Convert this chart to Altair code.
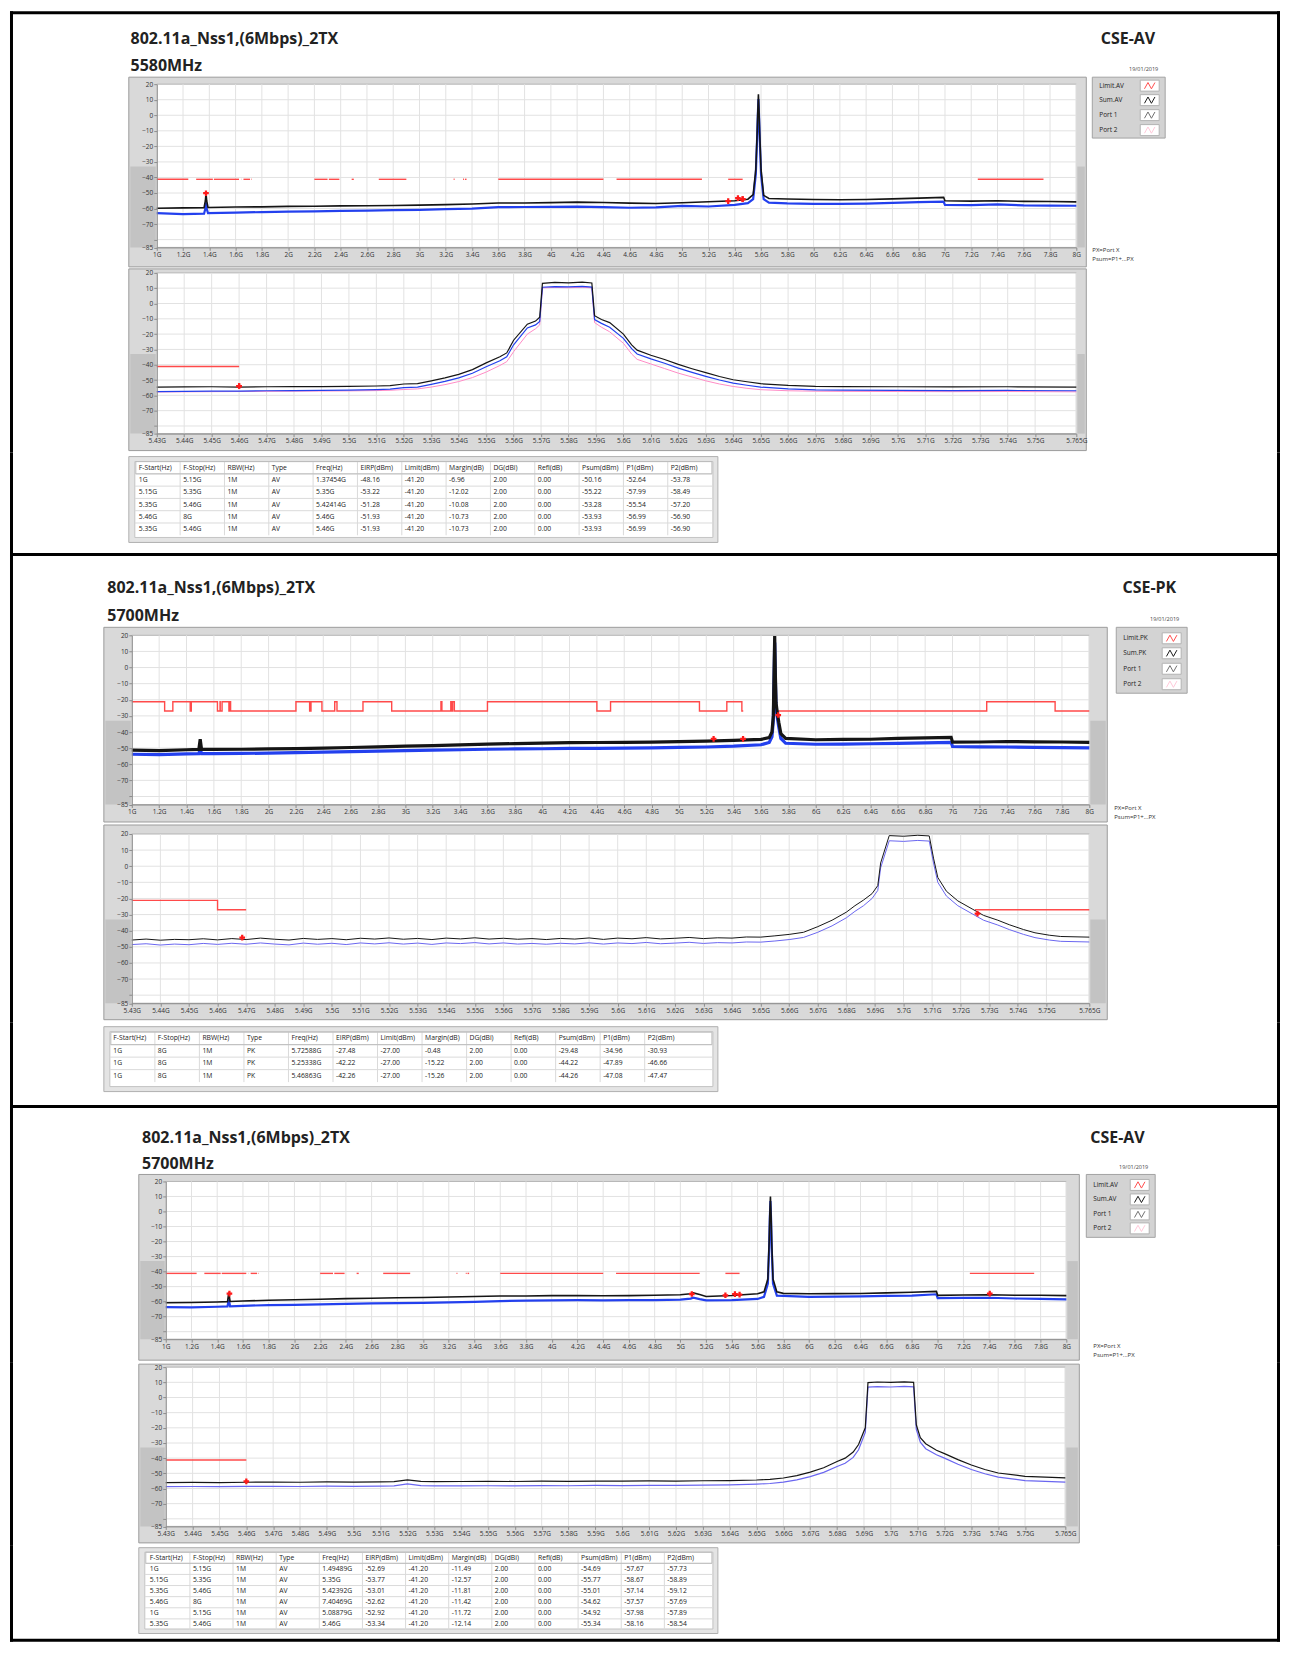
import altair as alt
import pandas as pd

FONT = "Open Sans"

# ------------------------------------------------------------------ texts
TITLE = "802.11a_Nss1,(6Mbps)_2TX"
CHANNELS = ["5580MHz", "5700MHz", "5700MHz"]
MODES = ["CSE-AV", "CSE-PK", "CSE-AV"]
DATE = "19/01/2019"
LEGEND_LABELS = [
    ["Limit.AV", "Sum.AV", "Port 1", "Port 2"],
    ["Limit.PK", "Sum.PK", "Port 1", "Port 2"],
    ["Limit.AV", "Sum.AV", "Port 1", "Port 2"],
]
LEGEND_ICON_COLORS = ["#ff4d4d", "#1a1a1a", "#707070", "#ffc9d9"]
NOTES = ["PX=Port X", "Psum=P1+...PX"]

# ------------------------------------------------------------------ tables
COLS = ["F-Start(Hz)", "F-Stop(Hz)", "RBW(Hz)", "Type", "Freq(Hz)", "EIRP(dBm)", "Limit(dBm)",
        "Margin(dB)", "DG(dBi)", "Refl(dB)", "Psum(dBm)", "P1(dBm)", "P2(dBm)"]
TABLE_1 = [
    ["1G", "5.15G", "1M", "AV", "1.37454G", "-48.16", "-41.20", "-6.96", "2.00", "0.00", "-50.16", "-52.64", "-53.78"],
    ["5.15G", "5.35G", "1M", "AV", "5.35G", "-53.22", "-41.20", "-12.02", "2.00", "0.00", "-55.22", "-57.99", "-58.49"],
    ["5.35G", "5.46G", "1M", "AV", "5.42414G", "-51.28", "-41.20", "-10.08", "2.00", "0.00", "-53.28", "-55.54", "-57.20"],
    ["5.46G", "8G", "1M", "AV", "5.46G", "-51.93", "-41.20", "-10.73", "2.00", "0.00", "-53.93", "-56.99", "-56.90"],
    ["5.35G", "5.46G", "1M", "AV", "5.46G", "-51.93", "-41.20", "-10.73", "2.00", "0.00", "-53.93", "-56.99", "-56.90"],
]
TABLE_2 = [
    ["1G", "8G", "1M", "PK", "5.72588G", "-27.48", "-27.00", "-0.48", "2.00", "0.00", "-29.48", "-34.96", "-30.93"],
    ["1G", "8G", "1M", "PK", "5.25338G", "-42.22", "-27.00", "-15.22", "2.00", "0.00", "-44.22", "-47.89", "-46.66"],
    ["1G", "8G", "1M", "PK", "5.46863G", "-42.26", "-27.00", "-15.26", "2.00", "0.00", "-44.26", "-47.08", "-47.47"],
]
TABLE_3 = [
    ["1G", "5.15G", "1M", "AV", "1.49489G", "-52.69", "-41.20", "-11.49", "2.00", "0.00", "-54.69", "-57.67", "-57.73"],
    ["5.15G", "5.35G", "1M", "AV", "5.35G", "-53.77", "-41.20", "-12.57", "2.00", "0.00", "-55.77", "-58.67", "-58.89"],
    ["5.35G", "5.46G", "1M", "AV", "5.42392G", "-53.01", "-41.20", "-11.81", "2.00", "0.00", "-55.01", "-57.14", "-59.12"],
    ["5.46G", "8G", "1M", "AV", "7.40469G", "-52.62", "-41.20", "-11.42", "2.00", "0.00", "-54.62", "-57.57", "-57.69"],
    ["1G", "5.15G", "1M", "AV", "5.08879G", "-52.92", "-41.20", "-11.72", "2.00", "0.00", "-54.92", "-57.98", "-57.89"],
    ["5.35G", "5.46G", "1M", "AV", "5.46G", "-53.34", "-41.20", "-12.14", "2.00", "0.00", "-55.34", "-58.16", "-58.54"],
]

# ------------------------------------------------------------------ axes
Y_TICKS = [20, 10, 0, -10, -20, -30, -40, -50, -60, -70, -80, -85]
Y_GRID = [10, 0, -10, -20, -30, -40, -50, -60, -70, -80]
WIDE_TICKS = [1.0, 1.2, 1.4, 1.6, 1.8, 2.0, 2.2, 2.4, 2.6, 2.8, 3.0, 3.2, 3.4, 3.6, 3.8, 4.0, 4.2, 4.4,
              4.6, 4.8, 5.0, 5.2, 5.4, 5.6, 5.8, 6.0, 6.2, 6.4, 6.6, 6.8, 7.0, 7.2, 7.4, 7.6, 7.8, 8.0]
NARROW_TICKS = [5.43, 5.44, 5.45, 5.46, 5.47, 5.48, 5.49, 5.5, 5.51, 5.52, 5.53, 5.54, 5.55, 5.56,
                5.57, 5.58, 5.59, 5.6, 5.61, 5.62, 5.63, 5.64, 5.65, 5.66, 5.67, 5.68, 5.69, 5.7,
                5.71, 5.72, 5.73, 5.74, 5.75, 5.765]

# ------------------------------------------------------------------ limits
RESTRICTED_START = [0.96, 1.3, 1.435, 1.645, 1.66, 1.7188, 2.2, 2.31, 2.4835, 2.69, 3.26, 3.332,
                    3.3458, 3.6, 4.5, 5.35, 7.25]
RESTRICTED_END = [1.24, 1.427, 1.626, 1.6465, 1.71, 1.7222, 2.3, 2.39, 2.5, 2.9, 3.267, 3.339,
                  3.358, 4.4, 5.15, 5.46, 7.75]
AV_LIMIT = -41.2
PK_LIMIT_HI = -21.2
PK_LIMIT_LO = -27.0
PK_PIECES_WIDE = [(1.0, 5.47), (5.725, 8.0)]
PK_PIECES_NARROW = [(5.43, 5.47), (5.725, 5.765)]

# ------------------------------------------------------------------ traces: panel 1 (5580MHz AV)
P1W_F = [1.0, 1.2, 1.36, 1.37, 1.375, 1.38, 1.39, 1.6, 1.8, 2.0, 2.2, 2.4, 2.6, 2.8, 3.0, 3.2, 3.4,
         3.6, 3.8, 4.0, 4.2, 4.4, 4.6, 4.8, 5.0, 5.2, 5.4, 5.5, 5.54, 5.56, 5.57, 5.575, 5.58,
         5.585, 5.59, 5.6, 5.62, 5.66, 5.8, 6.0, 6.2, 6.4, 6.6, 6.8, 6.99, 7.0, 7.2, 7.4, 7.6, 7.8, 8.0]
P1W_SUM = [-59.8, -59.6, -59.4, -55.0, -50.2, -55.0, -59.3, -59.0, -58.9, -58.6, -58.5, -58.3, -58.2,
           -58.0, -57.8, -57.5, -57.1, -56.4, -56.4, -56.2, -55.9, -56.1, -56.5, -56.8, -56.3, -55.6,
           -55.0, -54.0, -51.0, -35.0, -12.0, 2.0, 13.5, 2.0, -12.0, -35.0, -51.5, -53.5, -53.9, -54.2,
           -54.3, -54.2, -53.8, -53.3, -52.8, -55.0, -55.2, -55.0, -55.4, -55.5, -55.7]
P1W_P1 = [-63.0, -63.6, -63.3, -60.0, -56.0, -60.0, -63.0, -62.6, -62.3, -62.0, -61.8, -61.5, -61.3,
          -61.0, -60.8, -60.4, -60.0, -59.1, -59.0, -58.9, -58.8, -59.1, -59.5, -59.3, -58.3, -58.7,
          -57.6, -56.5, -54.0, -38.0, -15.0, -1.0, 10.5, -1.0, -15.0, -38.0, -54.0, -56.2, -56.7, -57.0,
          -57.0, -56.8, -56.4, -55.9, -55.6, -57.6, -57.8, -57.3, -58.0, -58.1, -58.2]

P1N_F = [5.43, 5.44, 5.45, 5.46, 5.47, 5.48, 5.49, 5.50, 5.51, 5.515,
         5.52, 5.525, 5.53, 5.535, 5.54, 5.545, 5.55, 5.555, 5.5575, 5.56,
         5.565, 5.568, 5.5695, 5.5705, 5.575, 5.58, 5.585, 5.5885, 5.5895, 5.592,
         5.595, 5.60, 5.603, 5.605, 5.61, 5.615, 5.62, 5.625, 5.63, 5.635,
         5.64, 5.645, 5.65, 5.66, 5.67, 5.68, 5.70, 5.72, 5.74, 5.765]
P1N_SUM = [-54.6, -54.5, -54.4, -54.6, -54.4, -54.3, -54.3, -54.2, -53.9, -53.6,
           -52.6, -52.4, -50.5, -48.6, -46.3, -43.2, -38.8, -34.8, -32.3, -24.0,
           -13.5, -11.5, -9.0, 13.2, 13.8, 13.5, 13.9, 13.4, -8.0, -10.5,
           -12.5, -20.0, -27.0, -30.5, -33.8, -36.6, -39.8, -42.6, -45.2, -47.7,
           -49.8, -51.1, -52.4, -53.5, -54.1, -54.3, -54.4, -54.5, -54.4, -54.6]
P1N_P1 = [-57.6, -57.4, -57.3, -57.2, -57.0, -56.9, -56.8, -56.6, -56.3, -56.0,
          -55.0, -54.6, -52.8, -50.9, -48.6, -45.6, -41.3, -37.4, -34.8, -27.0,
          -16.0, -14.0, -11.8, 10.6, 11.0, 10.8, 11.2, 10.7, -10.5, -13.0,
          -15.5, -22.8, -29.5, -33.0, -36.2, -39.0, -42.2, -45.0, -47.6, -50.0,
          -52.0, -53.4, -54.6, -55.8, -56.4, -56.6, -56.8, -56.9, -56.8, -57.0]
P1N_P2 = [-57.8, -57.7, -57.6, -57.5, -57.4, -57.3, -57.2, -57.1, -56.9, -56.7,
          -56.2, -55.8, -54.6, -53.0, -51.0, -48.4, -44.8, -40.5, -38.0, -31.5,
          -20.0, -16.5, -14.0, 10.2, 10.5, 10.3, 10.6, 10.2, -12.5, -15.5,
          -18.5, -26.0, -33.0, -36.5, -39.5, -42.5, -45.5, -48.0, -50.5, -52.6,
          -54.2, -55.4, -56.3, -57.0, -57.3, -57.4, -57.5, -57.6, -57.5, -57.7]

# ------------------------------------------------------------------ traces: panel 2 (5700MHz PK)
P2W_F = [1.0, 1.2, 1.4, 1.49, 1.5, 1.51, 1.6, 1.8, 2.0, 2.2, 2.4, 2.6, 2.8, 3.0, 3.2, 3.4, 3.6,
         3.8, 4.0, 4.2, 4.4, 4.6, 4.8, 5.0, 5.2, 5.4, 5.6, 5.66, 5.68, 5.69, 5.695, 5.70, 5.705,
         5.71, 5.72, 5.73, 5.745, 5.78, 6.0, 6.2, 6.4, 6.6, 6.8, 6.99, 7.0, 7.2, 7.4, 7.6, 7.8, 8.0]
P2W_SUM = [-51.2, -51.5, -51.0, -50.8, -44.5, -50.8, -50.8, -50.7, -50.5, -50.3, -50.0, -49.6, -49.2,
           -48.8, -48.4, -48.0, -47.5, -47.2, -46.9, -46.6, -46.5, -46.4, -46.3, -46.0, -45.6, -45.2,
           -44.6, -43.5, -40.0, -30.0, -5.0, 19.5, -5.0, -22.0, -28.5, -34.0, -41.0, -44.0,
           -44.8, -44.6, -44.5, -44.0, -43.7, -43.3, -46.3, -46.2, -45.9, -46.1, -46.2, -46.4]
P2W_P1 = [-53.8, -54.0, -53.6, -53.4, -50.5, -53.4, -53.4, -53.3, -53.1, -52.8, -52.5, -52.2, -51.9,
          -51.6, -51.3, -51.0, -50.7, -50.5, -50.4, -50.2, -50.1, -50.0, -49.8, -49.5, -49.3, -48.8,
          -47.9, -46.5, -43.0, -33.0, -8.0, 15.5, -8.0, -25.0, -31.5, -37.0, -44.0, -47.0,
          -47.6, -47.5, -47.3, -47.0, -46.7, -46.4, -49.0, -49.2, -49.3, -49.5, -49.7, -49.8]

P2N_F = [5.43, 5.435, 5.44, 5.445, 5.45, 5.455, 5.46, 5.465, 5.47, 5.475,
         5.48, 5.485, 5.49, 5.495, 5.50, 5.505, 5.51, 5.515, 5.52, 5.525,
         5.53, 5.535, 5.54, 5.545, 5.55, 5.555, 5.56, 5.565, 5.57, 5.575,
         5.58, 5.585, 5.59, 5.595, 5.60, 5.605, 5.61, 5.615, 5.62, 5.625,
         5.63, 5.635, 5.64, 5.645, 5.65, 5.655, 5.66, 5.665, 5.67, 5.675,
         5.68, 5.683, 5.686, 5.689, 5.691, 5.692, 5.695, 5.70, 5.705, 5.709,
         5.7105, 5.712, 5.715, 5.719, 5.724, 5.728, 5.733, 5.737, 5.742, 5.746,
         5.751, 5.755, 5.76, 5.765]
P2N_SUM = [-45.8, -45.2, -45.9, -45.4, -45.6, -45.0, -45.7, -44.9, -45.5, -44.6,
           -45.3, -45.8, -44.8, -45.4, -44.9, -45.6, -44.7, -45.2, -44.5, -45.3,
           -44.8, -45.5, -44.6, -45.1, -44.4, -45.2, -44.7, -45.3, -44.9, -45.5,
           -44.8, -45.2, -44.5, -45.4, -44.6, -45.0, -44.3, -45.1, -44.7, -44.2,
           -44.9, -44.4, -44.6, -43.9, -44.0, -43.2, -42.3, -41.0, -37.5, -33.5,
           -28.5, -24.5, -21.0, -17.0, -12.0, 2.0, 19.0, 18.6, 19.2, 18.8,
           5.0, -7.0, -15.5, -21.5, -26.5, -30.5, -33.5, -36.3, -39.3, -41.3,
           -42.8, -43.6, -43.8, -44.0]
P2N_P1 = [-48.6, -48.1, -48.9, -48.3, -48.7, -47.9, -48.5, -47.8, -48.4, -47.6,
          -48.3, -48.8, -47.7, -48.4, -47.8, -48.6, -47.6, -48.2, -47.5, -48.3,
          -47.7, -48.5, -47.6, -48.0, -47.4, -48.2, -47.6, -48.3, -47.9, -48.4,
          -47.8, -48.2, -47.5, -48.3, -47.6, -48.0, -47.3, -48.1, -47.7, -47.2,
          -47.9, -47.4, -47.6, -47.0, -47.1, -46.4, -45.5, -44.2, -41.0, -37.0,
          -32.0, -28.0, -24.5, -20.0, -15.0, -1.0, 15.8, 15.4, 16.0, 15.6,
          2.0, -10.0, -18.5, -24.5, -29.5, -33.5, -36.5, -39.3, -42.3, -44.3,
          -45.8, -46.6, -46.8, -47.0]

# ------------------------------------------------------------------ traces: panel 3 (5700MHz AV)
P3W_F = [1.0, 1.2, 1.4, 1.48, 1.49, 1.5, 1.6, 1.8, 2.0, 2.2, 2.4, 2.6, 2.8, 3.0, 3.2, 3.4, 3.6,
         3.8, 4.0, 4.2, 4.4, 4.6, 4.8, 5.0, 5.08, 5.1, 5.15, 5.2, 5.4, 5.6, 5.65, 5.68, 5.69,
         5.695, 5.70, 5.705, 5.71, 5.72, 5.75, 5.8, 6.0, 6.2, 6.4, 6.6, 6.8, 6.99, 7.0, 7.2, 7.4,
         7.6, 7.8, 8.0]
P3W_SUM = [-60.7, -60.6, -60.2, -60.0, -54.0, -59.9, -59.6, -59.1, -58.7, -58.4, -58.0, -57.7, -57.4,
           -57.2, -56.9, -56.6, -56.3, -56.2, -56.0, -56.0, -56.1, -56.0, -55.8, -55.4,
           -54.8, -54.2, -55.3, -56.6, -55.9, -54.8, -53.5, -45.0, -20.0, -2.0, 10.0, -2.0, -20.0,
           -45.0, -53.5, -54.5, -54.8, -54.7, -54.6, -54.2, -53.8, -53.2, -55.8, -55.6, -55.4,
           -55.7, -55.8, -56.0]
P3W_P1 = [-63.6, -63.8, -63.4, -63.2, -58.5, -63.1, -62.8, -62.3, -62.1, -61.8, -61.5, -61.2, -61.0,
          -60.8, -60.5, -60.1, -59.6, -59.3, -59.1, -59.0, -59.1, -59.0, -59.0, -58.7,
          -58.0, -57.4, -58.3, -59.1, -59.0, -58.2, -56.8, -48.0, -24.0, -5.0, 7.0, -5.0, -24.0,
          -48.0, -56.0, -56.2, -56.8, -56.7, -56.5, -56.2, -56.0, -55.1, -57.6, -57.5, -57.4,
          -57.9, -58.2, -58.5]

P3N_F = [5.43, 5.44, 5.45, 5.46, 5.47, 5.48, 5.49, 5.50, 5.51,
         5.515, 5.52, 5.525, 5.53,
         5.54, 5.55, 5.56, 5.57, 5.58, 5.59, 5.60, 5.61, 5.62, 5.63, 5.64, 5.65,
         5.655, 5.66, 5.665, 5.67, 5.675, 5.68, 5.683, 5.686, 5.688, 5.6905,
         5.6915, 5.695, 5.70, 5.705, 5.7085, 5.7095, 5.711, 5.713, 5.717, 5.72,
         5.725, 5.73, 5.735, 5.74, 5.75, 5.765]
P3N_SUM = [-56.2, -56.0, -56.1, -55.9, -55.8, -55.9, -55.7, -55.8, -55.6,
           -55.5, -54.3, -55.3, -55.5,
           -55.4, -55.3, -55.4, -55.2, -55.3, -55.1, -55.2, -55.0, -55.1, -54.9, -54.8, -54.4,
           -54.0, -53.1, -51.5, -49.2, -46.3, -42.2, -40.0, -36.0, -31.0, -20.0,
           9.8, 10.2, 9.9, 10.3, 10.0, -18.0, -26.5, -30.5, -34.8, -37.0,
           -41.0, -44.5, -47.5, -49.8, -52.0, -53.0]
P3N_P1 = [-58.8, -58.7, -58.8, -58.6, -58.6, -58.7, -58.5, -58.6, -58.4,
          -58.3, -57.0, -58.1, -58.3,
          -58.3, -58.2, -58.3, -58.1, -58.2, -58.0, -58.1, -57.9, -58.0, -57.8, -57.6, -57.1,
          -56.7, -55.8, -54.3, -52.2, -49.4, -45.5, -43.4, -39.5, -34.5, -23.0,
          6.8, 7.2, 6.9, 7.3, 7.0, -21.0, -29.5, -33.8, -37.8, -40.0,
          -44.0, -47.5, -50.3, -52.5, -54.8, -55.8]

# ------------------------------------------------------------------ colours
BLACK = "#151515"
BLUE = "#2340ee"
BLUE_SOFT = "#6a66f0"
PINK = "#ff8cc6"
LIMIT_RED = "#ff4a4a"
GRID = "#e2e2e2"
FRAME = "#d9d9d9"
FRAME_DARK = "#c3c3c3"
FRAME_EDGE = "#9c9c9c"
ZIGZAG = "M-1,0.6L-0.33,-0.6L0.33,0.6L1,-0.6"

# ------------------------------------------------------------------ layout (reference pixels)
OX = 8.0
OY = 8.0
W = 1272

LAYOUT = [
    dict(rows=[(8, 265, 1.0), (265, 450, 1.0), (450, 552, 1.0)],
         title_x=128.7, title_y=36, sub_y=62.5, mode_right=1155, mode_y=36, date_right=1158, date_y=66,
         frame1=(127, 1086, 74, 264), area1=(155, 1076, 81, 244.5),
         frame2=(127, 1086, 266, 448), area2=(155, 1076, 270, 431),
         legend=(1092, 1165, 74, 135), legend_y=[82.5, 97, 112, 127], note_x=1092, note_y=[247, 256],
         tframe=(127, 717, 454, 540), tinner=(133, 712, 459, 535), tx0=134, tpitch=44.4, ty0=459, trow=12.3),
    dict(rows=[(552, 821, 1.0), (821, 1021, 1.0), (1021, 1105, 1.0)],
         title_x=105.5, title_y=585.5, sub_y=614, mode_right=1176, mode_y=585.5, date_right=1179, date_y=617,
         frame1=(102, 1107, 625, 820), area1=(130, 1089, 633, 802.5),
         frame2=(102, 1107, 823, 1018), area2=(130, 1089, 832, 1001.5),
         legend=(1116, 1187, 625, 691), legend_y=[636, 651, 666.5, 682], note_x=1114, note_y=[806, 815],
         tframe=(102, 717, 1025, 1090), tinner=(108, 712, 1030, 1085), tx0=108.5, tpitch=44.6, ty0=1030.5, trow=12.5),
    dict(rows=[(1105, 1361, 1.0), (1361, 1545, 1.0), (1545, 1651, 0.905)],
         title_x=140.3, title_y=1136, sub_y=1162.5, mode_right=1144.5, mode_y=1136, date_right=1148, date_y=1166,
         frame1=(137, 1079, 1173, 1359), area1=(164, 1066, 1180, 1338),
         frame2=(137, 1079, 1363, 1542), area2=(164, 1065, 1366, 1525.5),
         legend=(1086, 1155, 1173, 1236), legend_y=[1183.5, 1198, 1213, 1227], note_x=1093, note_y=[1345, 1353.5],
         tframe=(137, 717, 1547, 1642), tinner=(143, 712, 1552, 1637), tx0=145, tpitch=43.2, ty0=1552, trow=12.3),
]

ONE = pd.DataFrame({"k": [0]})


def X(f):
    return round(f - OX, 2)


class Row:
    def __init__(self, top, bot, k):
        self.top = top
        self.k = k
        self.H = round((bot - top) * k, 2)

    def y(self, f):
        return round((f - self.top) * self.k, 2)


def rect(r, x0, x1, y0, y1, fill=None, stroke=None, sw=1.0):
    kw = {}
    if fill is None:
        kw["fill"] = "white"
        kw["fillOpacity"] = 0
    else:
        kw["fill"] = fill
    if stroke is not None:
        kw["stroke"] = stroke
        kw["strokeWidth"] = sw
    return alt.Chart(ONE).mark_rect(**kw).encode(
        x=alt.value(X(x0)), x2=alt.value(X(x1)), y=alt.value(r.y(y0)), y2=alt.value(r.y(y1)))


def label(r, s, x, y, size, weight=400, align="left", color="#222222"):
    return alt.Chart(ONE).mark_text(text=s, font=FONT, fontSize=size, fontWeight=weight, align=align,
                                    baseline="middle", color=color).encode(
        x=alt.value(X(x)), y=alt.value(r.y(y)))


def border_layers(r, top=False, divider=False, bottom=False):
    def rule(x0, x1, y0, y1):
        return alt.Chart(ONE).mark_rule(color="black", strokeWidth=3).encode(
            x=alt.value(x0), x2=alt.value(x1), y=alt.value(y0), y2=alt.value(y1))
    out = [rule(1.5, 1.5, 0, r.H), rule(W - 1.5, W - 1.5, 0, r.H)]
    if top:
        out.append(rule(0, W, 1.5, 1.5))
    if divider:
        out.append(rule(0, W, 0, 0))
    if bottom:
        out.append(rule(0, W, r.H - 1.5, r.H - 1.5))
    return out


def series_df(f, v):
    return pd.DataFrame({"f": f, "v": v, "i": list(range(len(f)))})


def av_limit_df(lo, hi):
    rows = []
    for a, b in zip(RESTRICTED_START, RESTRICTED_END):
        a2, b2 = max(a, lo), min(b, hi)
        if b2 > a2:
            rows.append({"a": a2, "b": b2, "lvl": AV_LIMIT})
    return pd.DataFrame(rows)


def pk_limit_df(pieces):
    rows = []
    for pi, (lo, hi) in enumerate(pieces):
        def level(f):
            return PK_LIMIT_HI if any(a <= f < b for a, b in zip(RESTRICTED_START, RESTRICTED_END)) else PK_LIMIT_LO
        pts = [(lo, level(lo))]
        for a, b in zip(RESTRICTED_START, RESTRICTED_END):
            if lo < a < hi:
                pts += [(a, PK_LIMIT_LO), (a, PK_LIMIT_HI)]
            if lo < b < hi:
                pts += [(b, PK_LIMIT_HI), (b, PK_LIMIT_LO)]
        pts.append((hi, pts[-1][1]))
        for i, (f, lv) in enumerate(pts):
            rows.append({"f": f, "v": lv, "piece": pi, "i": i})
    return pd.DataFrame(rows)


def markers_df(table, lo, hi):
    rows = []
    for rw in table:
        f = float(rw[4][:-1])
        if lo <= f <= hi:
            rows.append({"f": f, "v": float(rw[10])})
    return pd.DataFrame(rows)


def plot_layers(r, frame, area, xdom, xticks, xfmt, traces, limit, markers):
    fx0, fx1, fy0, fy1 = frame
    ax0, ax1, ay0, ay1 = area

    def fy(v):
        return ay1 - (v + 85) / 105.0 * (ay1 - ay0)

    xs = alt.Scale(domain=xdom, range=[X(ax0), X(ax1)], nice=False, zero=False)
    ys = alt.Scale(domain=[-85, 20], range=[r.y(ay1), r.y(ay0)], nice=False, zero=False)
    common = dict(grid=False, title=None, labelFont=FONT, labelFontSize=6.5, labelColor="#333333",
                  tickColor="#8c8c8c", domainColor="#8c8c8c", tickSize=3, labelPadding=1,
                  labelFlush=False, labelOverlap=False, zindex=2)
    xax = alt.Axis(orient="bottom", offset=round(r.y(ay1) - r.H, 2), values=xticks,
                   labelExpr="format(datum.value, '" + xfmt + "') + 'G'", **common)
    yax = alt.Axis(orient="left", offset=-X(ax0), values=Y_TICKS,
                   labelExpr="datum.value == -80 ? '' : datum.label", **common)

    L = [rect(r, fx0, fx1, fy0, fy1, fill=FRAME, stroke=FRAME_EDGE),
         rect(r, fx0 + 1.5, ax0 - 1, fy(-33), ay1, fill=FRAME_DARK),
         rect(r, ax1 + 1, fx1 - 1.5, fy(-33), ay1, fill=FRAME_DARK),
         rect(r, ax0, ax1, ay0, ay1, fill="white", stroke="#b5b5b5")]
    L.append(alt.Chart(pd.DataFrame({"g": xticks})).mark_rule(color=GRID, strokeWidth=1).encode(
        x=alt.X("g:Q", scale=xs, axis=xax), y=alt.value(r.y(ay0)), y2=alt.value(r.y(ay1))))
    L.append(alt.Chart(pd.DataFrame({"g": Y_GRID})).mark_rule(color=GRID, strokeWidth=1).encode(
        y=alt.Y("g:Q", scale=ys, axis=yax), x=alt.value(X(ax0)), x2=alt.value(X(ax1))))
    kind, ldf = limit
    if kind == "av":
        L.append(alt.Chart(ldf).mark_rule(color=LIMIT_RED, strokeWidth=1.4).encode(
            x=alt.X("a:Q", scale=xs, axis=xax), x2="b:Q", y=alt.Y("lvl:Q", scale=ys, axis=yax)))
    else:
        L.append(alt.Chart(ldf).mark_line(color=LIMIT_RED, strokeWidth=1.4).encode(
            x=alt.X("f:Q", scale=xs, axis=xax), y=alt.Y("v:Q", scale=ys, axis=yax),
            detail="piece:N", order="i:Q"))
    for df, col, sw in traces:
        L.append(alt.Chart(df).mark_line(color=col, strokeWidth=sw).encode(
            x=alt.X("f:Q", scale=xs, axis=xax), y=alt.Y("v:Q", scale=ys, axis=yax), order="i:Q"))
    if len(markers):
        L.append(alt.Chart(markers).mark_point(shape="cross", filled=True, color="#ff1a1a", size=32,
                                               opacity=1).encode(
            x=alt.X("f:Q", scale=xs, axis=xax), y=alt.Y("v:Q", scale=ys, axis=yax)))
    return L


def legend_layers(r, g, labels):
    lx0, lx1, ly0, ly1 = g["legend"]
    L = [rect(r, lx0, lx1, ly0, ly1, fill="#d3d3d3", stroke="#a3a3a3")]
    for lab, yy, col in zip(labels, g["legend_y"], LEGEND_ICON_COLORS):
        L.append(label(r, lab, lx0 + 7, yy, 6.5))
        L.append(rect(r, lx1 - 25, lx1 - 6, yy - 5.5, yy + 5.5, fill="white", stroke="#b3b3b3"))
        L.append(alt.Chart(ONE).mark_point(shape=ZIGZAG, filled=False, color=col, strokeWidth=1,
                                           size=110, opacity=1).encode(
            x=alt.value(X(lx1 - 15.5)), y=alt.value(r.y(yy))))
    for txt, yy in zip(NOTES, g["note_y"]):
        L.append(label(r, txt, g["note_x"], yy, 6, color="#333333"))
    return L


def table_layers(r, g, rows):
    fx0, fx1, fy0, fy1 = g["tframe"]
    ix0, ix1, iy0, iy1 = g["tinner"]
    n = len(rows) + 1
    ids = ["h"] + ["r%d" % i for i in range(1, n)]
    x0, pitch, y0, rh = g["tx0"], g["tpitch"], g["ty0"], g["trow"]
    xs = alt.Scale(type="band", domain=COLS, range=[X(x0), X(x0 + pitch * 13)], paddingInner=0, paddingOuter=0)
    ys = alt.Scale(type="band", domain=ids, range=[r.y(y0), r.y(y0 + rh * n)], paddingInner=0, paddingOuter=0)
    cells = pd.DataFrame([{"c": c, "r": rid, "t": t}
                          for rid, vals in zip(ids, [COLS] + rows) for c, t in zip(COLS, vals)])
    L = [rect(r, fx0, fx1, fy0, fy1, fill="#e4e4e4", stroke="#b0b0b0"),
         rect(r, ix0, ix1, iy0, iy1, fill="white", stroke="#c4c4c4")]
    L.append(alt.Chart(pd.DataFrame({"r": ids[1:]})).mark_rule(color="#dadada", strokeWidth=1).encode(
        y=alt.Y("r:N", scale=ys, axis=None, bandPosition=0), x=alt.value(X(ix0)), x2=alt.value(X(ix1))))
    L.append(alt.Chart(pd.DataFrame({"c": COLS[1:]})).mark_rule(color="#dadada", strokeWidth=1).encode(
        x=alt.X("c:N", scale=xs, axis=None, bandPosition=0), y=alt.value(r.y(y0)), y2=alt.value(r.y(y0 + rh * n))))
    L.append(rect(r, ix0 + 1, ix1 - 1, y0, y0 + rh, stroke="#bdbdbd"))
    L.append(alt.Chart(cells).mark_text(align="left", baseline="middle", dx=3, font=FONT, fontSize=6.8,
                                        color="#222222").encode(
        x=alt.X("c:N", scale=xs, axis=None, bandPosition=0),
        y=alt.Y("r:N", scale=ys, axis=None, bandPosition=0.5), text="t:N"))
    return L


PANELS = [
    dict(table=TABLE_1,
         wide=[(series_df(P1W_F, P1W_P1), BLUE, 2.2), (series_df(P1W_F, P1W_SUM), BLACK, 1.6)],
         narrow=[(series_df(P1N_F, P1N_P2), PINK, 1.0), (series_df(P1N_F, P1N_P1), BLUE, 1.2),
                 (series_df(P1N_F, P1N_SUM), BLACK, 1.2)],
         limit_wide=("av", av_limit_df(1.0, 8.0)), limit_narrow=("av", av_limit_df(5.43, 5.765))),
    dict(table=TABLE_2,
         wide=[(series_df(P2W_F, P2W_P1), BLUE, 3.2), (series_df(P2W_F, P2W_SUM), BLACK, 3.2)],
         narrow=[(series_df(P2N_F, P2N_P1), BLUE_SOFT, 1.0), (series_df(P2N_F, P2N_SUM), BLACK, 1.0)],
         limit_wide=("pk", pk_limit_df(PK_PIECES_WIDE)), limit_narrow=("pk", pk_limit_df(PK_PIECES_NARROW))),
    dict(table=TABLE_3,
         wide=[(series_df(P3W_F, P3W_P1), BLUE, 2.2), (series_df(P3W_F, P3W_SUM), BLACK, 1.6)],
         narrow=[(series_df(P3N_F, P3N_P1), BLUE_SOFT, 1.2), (series_df(P3N_F, P3N_SUM), BLACK, 1.2)],
         limit_wide=("av", av_limit_df(1.0, 8.0)), limit_narrow=("av", av_limit_df(5.43, 5.765))),
]

rows_out = []
for p in range(3):
    g = LAYOUT[p]
    d = PANELS[p]
    r1, r2, r3 = [Row(a, b, k) for a, b, k in g["rows"]]

    L1 = plot_layers(r1, g["frame1"], g["area1"], [1.0, 8.0], WIDE_TICKS, ".1~f", d["wide"],
                     d["limit_wide"], markers_df(d["table"], 1.0, 8.0))
    L1 += [label(r1, TITLE, g["title_x"], g["title_y"], 16, weight=700),
           label(r1, CHANNELS[p], g["title_x"], g["sub_y"], 16, weight=700),
           label(r1, MODES[p], g["mode_right"], g["mode_y"], 16, weight=700, align="right"),
           label(r1, DATE, g["date_right"], g["date_y"], 5.5, align="right", color="#444444")]
    L1 += legend_layers(r1, g, LEGEND_LABELS[p])
    L1 += border_layers(r1, top=(p == 0), divider=(p > 0))
    rows_out.append(alt.layer(*L1).properties(width=W, height=r1.H))

    L2 = plot_layers(r2, g["frame2"], g["area2"], [5.43, 5.765], NARROW_TICKS, ".3~f", d["narrow"],
                     d["limit_narrow"], markers_df(d["table"], 5.43, 5.765))
    L2 += border_layers(r2)
    rows_out.append(alt.layer(*L2).properties(width=W, height=r2.H))

    L3 = table_layers(r3, g, d["table"])
    L3 += border_layers(r3, bottom=(p == 2))
    rows_out.append(alt.layer(*L3).properties(width=W, height=r3.H))

chart = alt.vconcat(*rows_out, spacing=0, bounds="flush").resolve_scale(
    x="independent", y="independent").properties(padding=0).configure_view(strokeWidth=0)

chart.save("out.html", embed_options={"renderer": "svg", "actions": False})
